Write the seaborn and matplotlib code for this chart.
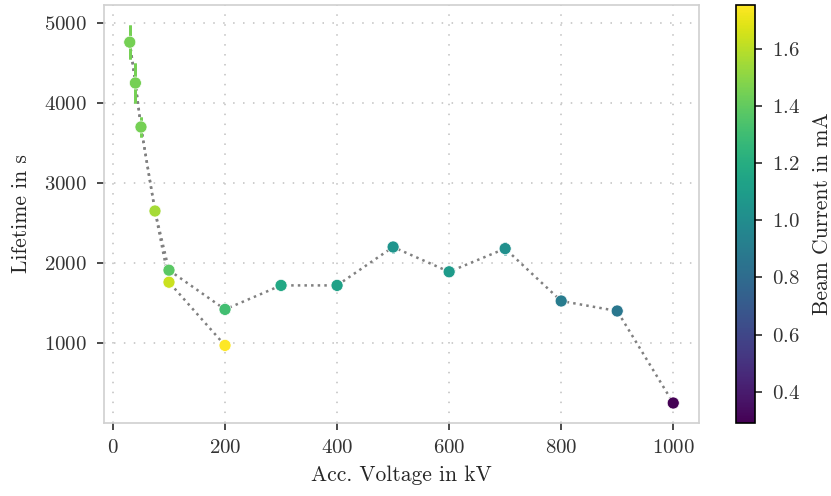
import numpy as np
import pandas as pd
import matplotlib
matplotlib.use("Agg")
import matplotlib.pyplot as plt
import seaborn as sns

# ---- data ----
voltage_a = [30, 40, 50, 75, 100, 200, 300, 400, 500, 600, 700, 800, 900, 1000]
lifetime_a = [4760, 4250, 3700, 2650, 1910, 1420, 1720, 1720, 2200, 1890, 2180, 1525, 1400, 250]
error_a = [210, 245, 130, 30, 40, 30, 25, 25, 70, 40, 80, 30, 25, 25]
current_a = [1.45, 1.45, 1.45, 1.56, 1.38, 1.31, 1.17, 1.13, 1.05, 1.09, 1.02, 0.90, 0.87, 0.29]

voltage_b = [30, 40, 50, 75, 100, 200]
lifetime_b = [4760, 4250, 3700, 2650, 1760, 970]
error_b = [210, 245, 130, 30, 30, 25]
current_b = [1.45, 1.45, 1.45, 1.56, 1.64, 1.75]

vmin, vmax = 0.29, 1.755

sns.set_theme(style="whitegrid")
plt.rcParams.update({
    "font.family": "serif",
    "font.serif": ["cmr10", "DejaVu Serif"],
    "mathtext.fontset": "cm",
    "axes.formatter.use_mathtext": True,
    "axes.unicode_minus": False,
    "font.size": 15,
    "axes.labelsize": 15.5,
    "xtick.labelsize": 15,
    "ytick.labelsize": 15,
    "axes.edgecolor": "#d0d0d0",
    "axes.linewidth": 1.2,
    "grid.color": "#c0c0c0",
    "grid.linewidth": 1.1,
    "xtick.bottom": True,
    "ytick.left": True,
    "xtick.color": "#333333",
    "ytick.color": "#333333",
    "xtick.major.size": 5,
    "ytick.major.size": 5,
    "xtick.major.pad": 6.5,
    "ytick.major.pad": 7,
})

df_a = pd.DataFrame({"voltage": voltage_a, "lifetime": lifetime_a, "err": error_a, "current": current_a})
df_b = pd.DataFrame({"voltage": voltage_b, "lifetime": lifetime_b, "err": error_b, "current": current_b})

fig = plt.figure(figsize=(8.31, 4.96), dpi=100)
W, H = 831, 496
ax = fig.add_axes([104 / W, 1 - 423 / H, (699 - 104) / W, (423 - 5) / H])
cax = fig.add_axes([736 / W, 1 - 423 / H, (755 - 736) / W, (423 - 5) / H])

ax.grid(True, linestyle=(0, (1, 5.5)))

cmap = plt.get_cmap("viridis")
norm = matplotlib.colors.Normalize(vmin=vmin, vmax=vmax)

for df in (df_a, df_b):
    sns.lineplot(data=df, x="voltage", y="lifetime", ax=ax, color="gray", linestyle=":",
                 linewidth=1.8, estimator=None, sort=False, zorder=1)

for df in (df_a, df_b):
    for _, r in df.iterrows():
        ax.errorbar(r["voltage"], r["lifetime"], yerr=r["err"], fmt="none",
                    ecolor=cmap(norm(r["current"])), elinewidth=2, capsize=0, zorder=2)

df_all = pd.concat([df_a, df_b.iloc[4:]], ignore_index=True)
sns.scatterplot(data=df_all, x="voltage", y="lifetime", hue="current", palette="viridis",
                hue_norm=norm, s=75, edgecolor="white", linewidth=0.5, ax=ax, legend=False, zorder=3)

ax.set_xlabel("Acc. Voltage in kV", labelpad=6)
ax.set_ylabel("Lifetime in s", labelpad=10)
ax.set_xticks([0, 200, 400, 600, 800, 1000])
ax.set_yticks([1000, 2000, 3000, 4000, 5000])
ax.set_xlim(-16, 1046)
ax.set_ylim(0, 5225)

sm = matplotlib.cm.ScalarMappable(norm=norm, cmap=cmap)
cb = fig.colorbar(sm, cax=cax)
cb.set_label("Beam Current in mA", labelpad=9)
cb.set_ticks([0.4, 0.6, 0.8, 1.0, 1.2, 1.4, 1.6])
cb.outline.set_edgecolor("black")
cb.outline.set_linewidth(1.2)
cax.tick_params(axis="y", right=True, length=5, color="#333333", pad=7)
cax.grid(True, axis="y", color="#c0c0c0", linestyle=(0, (1, 5.5)), linewidth=1.1)

fig.savefig("out.png", dpi=100)
